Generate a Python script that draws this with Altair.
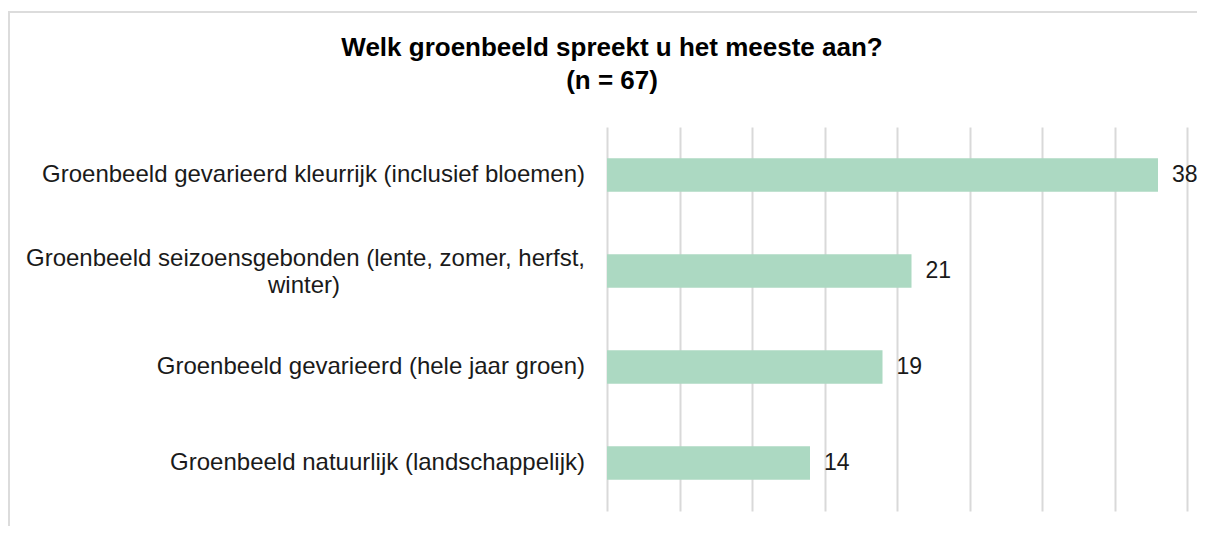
import altair as alt
import pandas as pd

categories = [
    "Groenbeeld gevarieerd kleurrijk (inclusief bloemen)",
    "Groenbeeld seizoensgebonden (lente, zomer, herfst, winter)",
    "Groenbeeld gevarieerd (hele jaar groen)",
    "Groenbeeld natuurlijk (landschappelijk)",
]
line1 = [
    "Groenbeeld gevarieerd kleurrijk (inclusief bloemen)",
    "Groenbeeld seizoensgebonden (lente, zomer, herfst,",
    "Groenbeeld gevarieerd (hele jaar groen)",
    "Groenbeeld natuurlijk (landschappelijk)",
]
line2 = ["", "winter)", "", ""]
counts = [38, 21, 19, 14]
x_ticks = [0, 5, 10, 15, 20, 25, 30, 35, 40]
title_lines = ["Welk groenbeeld spreekt u het meeste aan?", "(n = 67)"]

df = pd.DataFrame({"cat": categories, "l1": line1, "l2": line2, "n": counts})
tdf = pd.DataFrame({"t": title_lines, "i": [0, 1]})

FONT = "Liberation Sans"
FS = 24
y_enc = alt.Y("cat:N", sort=categories, axis=None,
              scale=alt.Scale(paddingInner=0.65, paddingOuter=0.325))
x_enc = alt.X("n:Q", scale=alt.Scale(domain=[0, 40], nice=False),
              axis=alt.Axis(values=x_ticks, labels=False, ticks=False, domain=False,
                            title=None, grid=True, gridColor="#d9d9d9", gridWidth=2))

base = alt.Chart(df)

frame = base.transform_filter("datum.n == 38").mark_rect(
    filled=False, stroke="#dcdcdc", strokeWidth=2, clip=False
).encode(x=alt.value(-598), x2=alt.value(700), y=alt.value(-115), y2=alt.value(500))

bars = base.mark_bar(color="#acd9c2").encode(x=x_enc, y=y_enc)

values = base.mark_text(align="left", baseline="middle", dx=14, fontSize=23,
                        font=FONT, color="#1a1a1a").encode(
    x="n:Q", y=alt.Y("cat:N", sort=categories), text="n:Q")

lab_single = base.transform_filter("datum.l2 == ''").mark_text(
    align="right", baseline="middle", fontSize=FS, font=FONT, color="#1a1a1a"
).encode(x=alt.value(-22), y=alt.Y("cat:N", sort=categories), text="l1:N")

lab_two_a = base.transform_filter("datum.l2 != ''").mark_text(
    align="right", baseline="middle", fontSize=FS, font=FONT, color="#1a1a1a", dy=-12
).encode(x=alt.value(-22), y=alt.Y("cat:N", sort=categories), text="l1:N")

lab_two_b = base.transform_filter("datum.l2 != ''").mark_text(
    align="center", baseline="middle", fontSize=FS, font=FONT, color="#1a1a1a", dy=15
).encode(x=alt.value(-303), y=alt.Y("cat:N", sort=categories), text="l2:N")

title1 = alt.Chart(tdf).transform_filter("datum.i == 0").mark_text(
    align="center", baseline="middle", fontSize=26, font=FONT, fontWeight="bold",
    color="#000000"
).encode(x=alt.value(5), y=alt.value(-79), text="t:N")

title2 = alt.Chart(tdf).transform_filter("datum.i == 1").mark_text(
    align="center", baseline="middle", fontSize=26, font=FONT, fontWeight="bold",
    color="#000000"
).encode(x=alt.value(5), y=alt.value(-46), text="t:N")

chart = alt.layer(frame, bars, values, lab_single, lab_two_a, lab_two_b,
                  title1, title2).properties(
    width=580, height=384,
    autosize=alt.AutoSizeParams(type="none"),
    padding={"left": 599, "top": 119, "right": 10, "bottom": 15},
).configure_view(stroke=None)

chart.save("out.html", embed_options={"renderer": "svg", "actions": False})
